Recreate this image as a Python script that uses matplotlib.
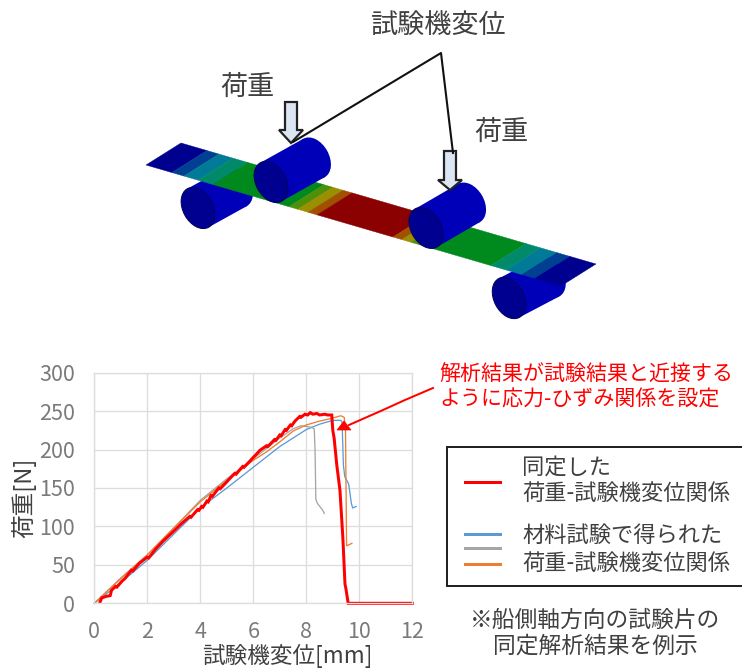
import numpy as np
import matplotlib
matplotlib.use("Agg")
from matplotlib import pyplot as plt
from matplotlib.patches import Ellipse, Polygon, Rectangle

plt.rcParams['font.family'] = ['Noto Sans CJK JP', 'DejaVu Sans']

# chart data
red_x = [0.22, 0.28, 0.45, 0.6, 0.65, 0.8, 0.85, 1.05, 1.15, 1.4, 1.45, 1.7, 2.0, 2.05, 2.3, 2.6, 3.0, 3.3, 3.6, 3.65, 3.9, 3.95,
         4.05, 4.1, 4.25, 4.3, 4.4, 4.45, 4.7, 4.75, 5.0, 5.05, 5.3, 5.35, 5.6, 5.65, 5.9, 5.95, 6.2, 6.25, 6.5, 6.55,
         6.8, 6.85, 7.0, 7.05, 7.2, 7.25, 7.4, 7.45, 7.55, 7.6, 7.75, 7.8, 7.95, 8.05, 8.15, 8.25, 8.4, 8.5, 8.7, 8.8, 8.96,
         9.0, 9.05, 9.15, 9.27, 9.38, 9.46, 9.5, 9.58, 10.0, 12.0]
red_y = [2, 7, 9, 10, 17, 22, 21, 29, 32, 43, 42, 52, 60, 59, 70, 81, 94, 104, 113, 112, 122, 121,
         126, 125, 133, 132, 140, 139, 150, 149, 158, 160, 169, 168, 178, 177, 186, 188, 197, 199, 205, 204,
         213, 212, 219, 218, 226, 225, 232, 231, 236, 238, 243, 242, 246, 245, 248, 246, 247, 245, 246, 245, 245,
         225, 215, 180, 147, 85, 25, 18, 0, 0, 0]

blue_x = [0, 1, 2, 3, 4, 5, 6, 7, 8, 8.5, 9, 9.3, 9.35, 9.4, 9.45, 9.6, 9.7, 9.75, 9.88]
blue_y = [0, 27, 56, 90, 124, 150, 177, 204, 226, 233, 238, 238, 236, 180, 165, 155, 130, 124, 126]

gray_x = [0, 1, 2, 3, 4, 5, 6, 7, 7.5, 7.8, 8.2, 8.3, 8.33, 8.36, 8.42, 8.6, 8.68]
gray_y = [0, 33, 63, 98, 134, 162, 188, 215, 227, 231, 229, 227, 200, 135, 130, 122, 117]

orange_x = [0, 1, 2, 3, 4, 5, 6, 6.5, 7, 7.5, 8, 8.5, 9, 9.3, 9.43, 9.48, 9.5, 9.52, 9.6, 9.72]
orange_y = [0, 32, 63, 98, 132, 160, 186, 197, 210, 224, 232, 237, 241, 244, 242, 225, 150, 75, 76, 78]

x_ticks = [0, 2, 4, 6, 8, 10, 12]
y_ticks = [0, 50, 100, 150, 200, 250, 300]

# beam colour bands, [start, end] along the top edge in pixels
band_edges = [181, 207, 219, 233, 248, 324, 333, 343, 352, 428, 437, 446, 454, 526, 541, 557, 570, 596]
band_colors = ['#00008f', '#003f92', '#007a96', '#008a6a', '#008a1e', '#4f8f0a', '#9a8f00', '#a05000',
               '#8b0000', '#a05000', '#9a8f00', '#4f8f0a', '#008a1e', '#008a6a', '#007a96', '#003f92', '#00008f']

TEXT = '#404040'
TICK = '#7a7a7a'
GRID = '#dddddd'
PX = 72 / 100  # points per pixel at dpi 100

fig = plt.figure(figsize=(7.42, 6.71), dpi=100)

# whole figure overlay in pixel coords for the drawing and the notes
over = fig.add_axes([0, 0, 1, 1])
over.set_xlim(0, 742)
over.set_ylim(671, 0)
over.axis('off')


def roller(front, back, z):
    fx, fy = front
    bx, by = back
    dx, dy = bx - fx, by - fy
    n = np.hypot(dx, dy)
    nx, ny = dy / n * 22, -dx / n * 22
    ang = np.degrees(np.arctan2(-dy, dx))
    # over has an inverted y, so the ellipse angle is flipped with it
    over.add_patch(Ellipse(back, 30, 44, angle=-ang, fc='#0000b8', ec='none', zorder=z))
    over.add_patch(Polygon([(fx + nx, fy + ny), (bx + nx, by + ny), (bx - nx, by - ny), (fx - nx, fy - ny)],
                           fc='#0000b8', ec='none', zorder=z))
    over.add_patch(Ellipse(front, 30, 44, angle=-ang, fc='#000090', ec='#00005a', lw=0.7, zorder=z + 0.1))


def block_arrow(x, top, neck, tip):
    pts = [(x - 6, top), (x + 6, top), (x + 6, neck), (x + 12, neck), (x, tip), (x - 12, neck), (x - 6, neck)]
    over.add_patch(Polygon(pts, fc='#dce6f2', ec='#222222', lw=1.6, zorder=6))


roller((198, 208), (236, 187), 1)
roller((509, 298), (549, 277), 1)

# beam, slope of the top edge carries each band across
slope = (264 - 143) / (596 - 181)
for i in range(len(band_colors)):
    x0, x1 = band_edges[i], band_edges[i + 1]
    y0, y1 = 143 + (x0 - 181) * slope, 143 + (x1 - 181) * slope
    over.add_patch(Polygon([(x0, y0), (x1, y1), (x1 - 35, y1 + 22), (x0 - 35, y0 + 22)],
                           fc=band_colors[i], ec=band_colors[i], lw=0.3, zorder=2))

roller((271, 182), (314, 158), 4)
roller((426, 228), (469, 203), 4)

block_arrow(291, 102, 130, 143)
block_arrow(450, 151, 180, 190)
over.plot([293, 441, 453], [142, 53, 153], color='#111111', lw=1.5, zorder=7)

over.text(439, 25, '試験機変位', fontsize=19.5, color=TEXT, ha='center', va='center')
over.text(247, 87, '荷重', fontsize=19.5, color=TEXT, ha='center', va='center')
over.text(501, 132, '荷重', fontsize=19.5, color=TEXT, ha='center', va='center')

# legend box runs off the right edge of the picture
over.add_patch(Rectangle((447, 447), 320, 139, fc='white', ec='#222222', lw=2 * PX, zorder=1))
over.plot([465, 500], [482, 482], color='#ff0000', lw=3 * PX, zorder=2)
over.plot([465, 500], [534, 534], color='#5b9bd5', lw=3 * PX, zorder=2)
over.plot([465, 500], [548, 548], color='#a5a5a5', lw=3 * PX, zorder=2)
over.plot([465, 500], [564, 564], color='#ed7d31', lw=3 * PX, zorder=2)
over.text(522, 467, '同定した', fontsize=16, color=TEXT, va='center', zorder=3)
over.text(522, 493, '荷重-試験機変位関係', fontsize=16, color=TEXT, va='center', zorder=3)
over.text(522, 535, '材料試験で得られた', fontsize=16, color=TEXT, va='center', zorder=3)
over.text(522, 563, '荷重-試験機変位関係', fontsize=16, color=TEXT, va='center', zorder=3)

over.text(439, 375, '解析結果が試験結果と近接する', fontsize=15.1, color='#ff0000', va='center')
over.text(439, 400, 'ように応力-ひずみ関係を設定', fontsize=15.1, color='#ff0000', va='center')

over.text(595, 620, '※船側軸方向の試験片の', fontsize=16.4, color=TEXT, ha='center', va='center')
over.text(595, 646, '同定解析結果を例示', fontsize=16.4, color=TEXT, ha='center', va='center')

# the chart
ax = fig.add_axes([94.3 / 742, 1 - 603.3 / 671, 318 / 742, 230.6 / 671])
ax.patch.set_alpha(0)
ax.set_xlim(0, 12)
ax.set_ylim(0, 300)
ax.set_xticks(x_ticks)
ax.set_yticks(y_ticks)
ax.grid(True, color=GRID, lw=1.3 * PX)
ax.set_axisbelow(True)
ax.tick_params(length=0, labelsize=15.5, labelcolor=TICK)
ax.tick_params(axis='x', pad=13)
ax.tick_params(axis='y', pad=14)
for s in ax.spines.values():
    s.set_color(GRID)
    s.set_linewidth(1.3 * PX)

ax.plot(blue_x, blue_y, color='#5b9bd5', lw=1.3 * PX, clip_on=False)
ax.plot(gray_x, gray_y, color='#a5a5a5', lw=1.3 * PX, clip_on=False)
ax.plot(orange_x, orange_y, color='#ed7d31', lw=1.3 * PX, clip_on=False)
ax.plot(red_x, red_y, color='#ff0000', lw=3 * PX, clip_on=False, solid_joinstyle='miter')
ax.set_xlabel('試験機変位[mm]', fontsize=16.3, color=TEXT, va='center')
ax.set_ylabel('荷重[N]', fontsize=17, color=TEXT, va='center')
ax.xaxis.set_label_coords((287 - 94.3) / 318, (603.3 - 656) / 230.6)
ax.yaxis.set_label_coords((24 - 94.3) / 318, (603.3 - 498) / 230.6)

# red pointer on top of the chart
over2 = fig.add_axes([0, 0, 1, 1])
over2.set_xlim(0, 742)
over2.set_ylim(671, 0)
over2.axis('off')
over2.patch.set_alpha(0)
over2.plot([349, 383, 405, 433], [425, 410, 400, 388], color='#ff0000', lw=2 * PX)
over2.add_patch(Polygon([(337, 430), (351, 430), (344, 421)], fc='#ff0000', ec='#ff0000', lw=0.5))

fig.savefig('out.png', dpi=100)
